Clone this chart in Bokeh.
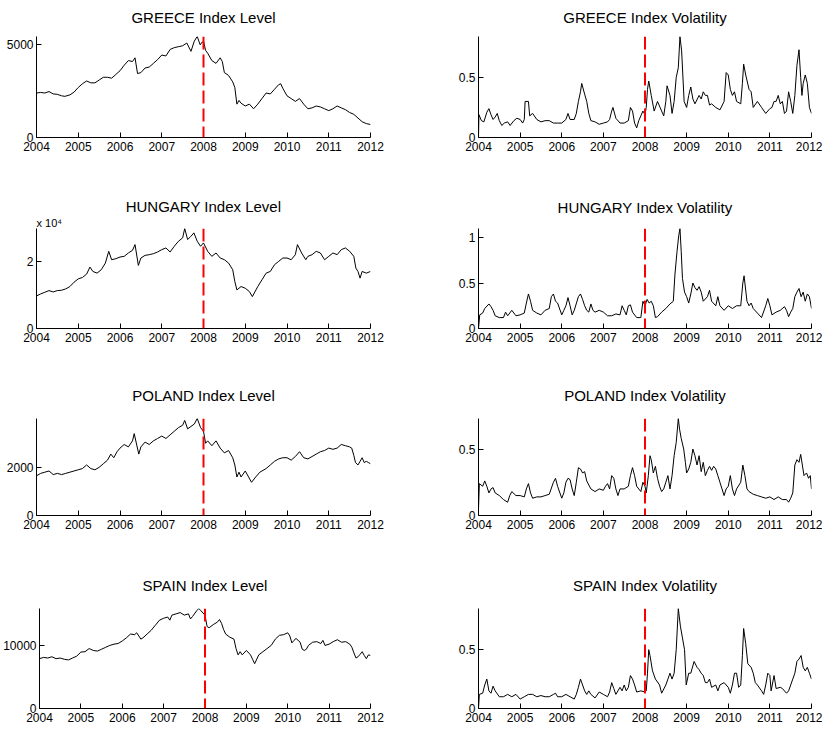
from bokeh.plotting import figure
from bokeh.layouts import column, row
from bokeh.models import FixedTicker, Span, Range1d, Title
from bokeh.embed import file_html
from bokeh.resources import INLINE

FONT = "Liberation Sans"

YEARS = [2004, 2005, 2006, 2007, 2008, 2009, 2010, 2011, 2012]
BREAK_YEAR = 2008

# ---------------- GREECE ----------------
greece_level_t = [
    2004.0, 2004.1, 2004.2, 2004.3, 2004.4, 2004.5, 2004.6, 2004.68, 2004.8, 2004.9,
    2005.0, 2005.1, 2005.2, 2005.3, 2005.4, 2005.5, 2005.6, 2005.7, 2005.8, 2005.9,
    2006.0, 2006.1, 2006.2, 2006.3, 2006.36, 2006.42, 2006.5, 2006.6, 2006.7, 2006.8, 2006.9,
    2007.0, 2007.1, 2007.2, 2007.3, 2007.4, 2007.5, 2007.6, 2007.7, 2007.78, 2007.85, 2007.92, 2007.97,
    2008.0, 2008.05, 2008.1, 2008.2, 2008.3, 2008.4, 2008.45, 2008.5, 2008.6, 2008.7, 2008.75, 2008.8, 2008.85, 2008.9,
    2009.0, 2009.1, 2009.2, 2009.3, 2009.4, 2009.5, 2009.6, 2009.7, 2009.8, 2009.85, 2009.9,
    2010.0, 2010.1, 2010.2, 2010.3, 2010.4, 2010.5, 2010.6, 2010.7, 2010.8, 2010.9,
    2011.0, 2011.1, 2011.2, 2011.3, 2011.4, 2011.5, 2011.6, 2011.7, 2011.8, 2011.9,
    2012.0]
greece_level = [
    2400, 2430, 2400, 2480, 2350, 2330, 2250, 2220, 2300, 2450,
    2700, 2900, 3050, 2950, 2950, 3100, 3250, 3250, 3200, 3400,
    3600, 3900, 4150, 4100, 4300, 3450, 3500, 3750, 3800, 4000, 4200,
    4450, 4400, 4750, 4850, 4900, 4950, 5100, 4650, 5200, 5450, 5000, 5150,
    5200, 4700, 4550, 4150, 4000, 4300, 4100, 3500, 3350, 3000, 2700, 1800, 2000, 1850,
    1700, 1800, 1550, 1800, 2100, 2400, 2350, 2600, 2850, 2900, 2650,
    2250, 2100, 1950, 2100, 1800, 1550, 1600, 1700, 1650, 1550,
    1450, 1550, 1700, 1600, 1500, 1350, 1250, 1050, 850, 750,
    700]

greece_vol_t = [
    2004.0, 2004.01, 2004.07, 2004.13, 2004.2, 2004.25, 2004.3, 2004.35, 2004.4, 2004.45, 2004.5, 2004.56, 2004.62, 2004.7, 2004.76, 2004.85, 2004.92,
    2005.0, 2005.06, 2005.1, 2005.12, 2005.2, 2005.23, 2005.3, 2005.4, 2005.5, 2005.6, 2005.7, 2005.8, 2005.9,
    2006.0, 2006.1, 2006.15, 2006.2, 2006.3, 2006.35, 2006.4, 2006.45, 2006.48, 2006.55, 2006.6, 2006.65, 2006.7, 2006.8, 2006.9,
    2007.0, 2007.1, 2007.15, 2007.2, 2007.23, 2007.3, 2007.4, 2007.5, 2007.6, 2007.65, 2007.7, 2007.75, 2007.8, 2007.85, 2007.9, 2007.95,
    2008.0, 2008.03, 2008.06, 2008.09, 2008.15, 2008.22, 2008.3, 2008.4, 2008.45, 2008.5, 2008.53, 2008.6, 2008.65, 2008.7, 2008.75, 2008.8, 2008.84, 2008.88, 2008.94,
    2009.0, 2009.05, 2009.1, 2009.15, 2009.2, 2009.3, 2009.35, 2009.4, 2009.45, 2009.5, 2009.55, 2009.6, 2009.7, 2009.8, 2009.9, 2009.95,
    2010.0, 2010.05, 2010.1, 2010.15, 2010.2, 2010.3, 2010.34, 2010.37, 2010.42, 2010.5, 2010.55, 2010.6, 2010.7, 2010.8, 2010.9,
    2011.0, 2011.05, 2011.1, 2011.15, 2011.2, 2011.25, 2011.3, 2011.35, 2011.4, 2011.45, 2011.5, 2011.55, 2011.6, 2011.65, 2011.7, 2011.74, 2011.77, 2011.8, 2011.85, 2011.9, 2011.95,
    2012.0]
greece_vol = [
    0.0, 0.19, 0.14, 0.13, 0.21, 0.24, 0.19, 0.15, 0.17, 0.2, 0.14, 0.1, 0.12, 0.13, 0.1, 0.14, 0.16,
    0.15, 0.12, 0.15, 0.3, 0.3, 0.18, 0.2, 0.15, 0.13, 0.14, 0.14, 0.12, 0.12,
    0.12, 0.15, 0.2, 0.15, 0.15, 0.2, 0.3, 0.38, 0.45, 0.36, 0.3, 0.2, 0.14, 0.13, 0.11,
    0.12, 0.13, 0.15, 0.22, 0.25, 0.16, 0.12, 0.12, 0.14, 0.25, 0.22, 0.12, 0.08, 0.14, 0.18, 0.22,
    0.19, 0.25, 0.4, 0.47, 0.35, 0.22, 0.3, 0.22, 0.18, 0.3, 0.43, 0.35, 0.2, 0.3, 0.5, 0.58, 0.84, 0.72, 0.3,
    0.25, 0.35, 0.42, 0.32, 0.28, 0.35, 0.32, 0.38, 0.35, 0.35, 0.27, 0.28, 0.25, 0.23, 0.3, 0.54,
    0.52, 0.4, 0.35, 0.38, 0.3, 0.28, 0.45, 0.61, 0.52, 0.4, 0.38, 0.25, 0.3, 0.25, 0.2,
    0.24, 0.25, 0.3, 0.3, 0.35, 0.28, 0.3, 0.2, 0.22, 0.38, 0.3, 0.2, 0.35, 0.6, 0.73, 0.5, 0.35, 0.45, 0.52, 0.45, 0.25,
    0.2]

# ---------------- HUNGARY ----------------
hungary_level_t = [
    2004.0, 2004.1, 2004.2, 2004.3, 2004.4, 2004.5, 2004.6, 2004.7, 2004.8, 2004.9,
    2005.0, 2005.1, 2005.2, 2005.28, 2005.35, 2005.45, 2005.55, 2005.65, 2005.73, 2005.8, 2005.9,
    2006.0, 2006.1, 2006.2, 2006.3, 2006.36, 2006.44, 2006.5, 2006.6, 2006.7, 2006.8, 2006.9,
    2007.0, 2007.1, 2007.2, 2007.3, 2007.4, 2007.5, 2007.55, 2007.62, 2007.7, 2007.77, 2007.85, 2007.93,
    2008.0, 2008.1, 2008.2, 2008.3, 2008.4, 2008.5, 2008.6, 2008.7, 2008.75, 2008.8, 2008.9,
    2009.0, 2009.1, 2009.17, 2009.3, 2009.4, 2009.5, 2009.6, 2009.7, 2009.8, 2009.9,
    2010.0, 2010.1, 2010.2, 2010.25, 2010.35, 2010.45, 2010.5, 2010.6, 2010.7, 2010.8, 2010.9,
    2011.0, 2011.1, 2011.2, 2011.3, 2011.4, 2011.5, 2011.6, 2011.65, 2011.7, 2011.75, 2011.8, 2011.9,
    2012.0]
hungary_level = [
    9700, 10300, 10800, 11300, 10900, 11300, 11400, 11800, 12500, 13800,
    14800, 15200, 16200, 18300, 17000, 16500, 17500, 19500, 23000, 20500, 20800,
    21300, 21500, 22500, 23300, 25000, 18800, 21000, 21800, 22000, 22300, 22800,
    23500, 24000, 22800, 24500, 26000, 27000, 29800, 26500, 27500, 28500, 26000, 24500,
    25500, 23000, 21500, 22500, 21000, 20500, 19500, 17500, 14000, 11500, 12500,
    12000, 11000, 9500, 12500, 14500, 16500, 17000, 19000, 20000, 21000,
    21000, 20500, 22000, 25000, 22500, 20500, 21500, 22000, 23000, 22500, 20500,
    21500, 22500, 22000, 23500, 24000, 23000, 21500, 18000, 17000, 15000, 17000, 16500,
    17000]

hungary_vol_t = [
    2004.0, 2004.03, 2004.1, 2004.15, 2004.25, 2004.3, 2004.35, 2004.4, 2004.5, 2004.6, 2004.65, 2004.7, 2004.8, 2004.9,
    2005.0, 2005.1, 2005.15, 2005.2, 2005.25, 2005.3, 2005.4, 2005.5, 2005.6, 2005.7, 2005.75, 2005.8, 2005.85, 2005.9,
    2006.0, 2006.05, 2006.1, 2006.15, 2006.2, 2006.25, 2006.3, 2006.4, 2006.45, 2006.5, 2006.55, 2006.6, 2006.65, 2006.7, 2006.75, 2006.8, 2006.9,
    2007.0, 2007.1, 2007.2, 2007.3, 2007.4, 2007.45, 2007.5, 2007.55, 2007.6, 2007.65, 2007.7, 2007.8, 2007.9, 2007.95,
    2008.0, 2008.05, 2008.1, 2008.15, 2008.2, 2008.25, 2008.3, 2008.4, 2008.5, 2008.6, 2008.68, 2008.72, 2008.77, 2008.81, 2008.84, 2008.87, 2008.9, 2008.95,
    2009.0, 2009.05, 2009.1, 2009.15, 2009.2, 2009.25, 2009.3, 2009.35, 2009.4, 2009.5, 2009.55, 2009.6, 2009.7, 2009.75, 2009.8, 2009.9,
    2010.0, 2010.1, 2010.2, 2010.3, 2010.35, 2010.38, 2010.45, 2010.5, 2010.55, 2010.6, 2010.7, 2010.8, 2010.9, 2010.95,
    2011.0, 2011.05, 2011.15, 2011.25, 2011.35, 2011.4, 2011.45, 2011.5, 2011.55, 2011.6, 2011.65, 2011.7, 2011.75, 2011.8, 2011.85, 2011.9, 2011.95,
    2012.0]
hungary_vol = [
    0.0, 0.15, 0.17, 0.22, 0.27, 0.24, 0.2, 0.14, 0.12, 0.12, 0.18, 0.14, 0.2, 0.14,
    0.15, 0.17, 0.28, 0.38, 0.3, 0.2, 0.17, 0.15, 0.2, 0.22, 0.35, 0.38, 0.3, 0.28,
    0.15, 0.2, 0.25, 0.34, 0.25, 0.15, 0.2, 0.35, 0.38, 0.32, 0.25, 0.2, 0.18, 0.27, 0.2, 0.18, 0.2,
    0.18, 0.14, 0.14, 0.16, 0.15, 0.25, 0.2, 0.15, 0.25, 0.26, 0.18, 0.12, 0.12, 0.3,
    0.25, 0.32, 0.28, 0.3, 0.25, 0.12, 0.13, 0.18, 0.22, 0.27, 0.3, 0.6, 0.85, 1.02, 1.1, 0.85, 0.55, 0.4,
    0.35, 0.28, 0.38, 0.5, 0.45, 0.42, 0.46, 0.4, 0.3, 0.35, 0.42, 0.3, 0.25, 0.35, 0.25, 0.2,
    0.25, 0.22, 0.25, 0.25, 0.5, 0.58, 0.3, 0.25, 0.28, 0.22, 0.17, 0.12, 0.25, 0.33,
    0.25, 0.15, 0.18, 0.2, 0.24, 0.2, 0.13, 0.18, 0.22, 0.35, 0.4, 0.44, 0.35, 0.4, 0.3, 0.38, 0.35,
    0.22]

# ---------------- POLAND ----------------
poland_level_t = [
    2004.0, 2004.1, 2004.2, 2004.3, 2004.4, 2004.5, 2004.6, 2004.7, 2004.8, 2004.9,
    2005.0, 2005.1, 2005.2, 2005.3, 2005.4, 2005.5, 2005.6, 2005.7, 2005.78, 2005.85, 2005.93,
    2006.0, 2006.1, 2006.2, 2006.3, 2006.34, 2006.45, 2006.5, 2006.6, 2006.7, 2006.8, 2006.9,
    2007.0, 2007.1, 2007.2, 2007.3, 2007.4, 2007.5, 2007.55, 2007.62, 2007.7, 2007.78, 2007.85, 2007.93,
    2008.0, 2008.05, 2008.1, 2008.2, 2008.3, 2008.4, 2008.5, 2008.6, 2008.7, 2008.75, 2008.8, 2008.85, 2008.9,
    2009.0, 2009.08, 2009.15, 2009.25, 2009.35, 2009.5, 2009.6, 2009.7, 2009.8, 2009.9,
    2010.0, 2010.1, 2010.2, 2010.3, 2010.4, 2010.5, 2010.6, 2010.7, 2010.8, 2010.9,
    2011.0, 2011.1, 2011.2, 2011.3, 2011.4, 2011.5, 2011.55, 2011.6, 2011.64, 2011.7, 2011.75, 2011.8, 2011.85, 2011.9, 2011.95,
    2012.0]
poland_level = [
    1650, 1750, 1800, 1850, 1700, 1750, 1700, 1750, 1800, 1850,
    1900, 1950, 2100, 1950, 1900, 2000, 2150, 2300, 2550, 2400, 2650,
    2800, 2950, 2850, 3100, 3400, 2550, 2850, 3050, 2950, 3100, 3200,
    3300, 3200, 3350, 3500, 3650, 3750, 3950, 3600, 3700, 3800, 4030, 3650,
    3500, 3000, 3100, 2900, 3100, 2800, 2600, 2700, 2400, 2100, 1600, 1800, 1600,
    1850, 1600, 1380, 1600, 1800, 1950, 2100, 2250, 2350, 2400,
    2400, 2300, 2450, 2650, 2400, 2350, 2450, 2550, 2650, 2700,
    2800, 2750, 2800, 2950, 2900, 2850, 2800, 2500, 2200, 2100, 2250, 2400, 2200, 2250, 2200,
    2150]

poland_vol_t = [
    2004.0, 2004.02, 2004.1, 2004.15, 2004.2, 2004.25, 2004.3, 2004.35, 2004.4, 2004.5, 2004.6, 2004.7, 2004.75, 2004.8, 2004.9,
    2005.0, 2005.1, 2005.15, 2005.2, 2005.25, 2005.3, 2005.4, 2005.5, 2005.6, 2005.7, 2005.8, 2005.85, 2005.9,
    2006.0, 2006.05, 2006.1, 2006.15, 2006.2, 2006.25, 2006.3, 2006.35, 2006.4, 2006.45, 2006.5, 2006.55, 2006.6, 2006.7, 2006.8, 2006.9,
    2007.0, 2007.05, 2007.1, 2007.15, 2007.2, 2007.25, 2007.3, 2007.35, 2007.4, 2007.5, 2007.6, 2007.65, 2007.7, 2007.75, 2007.8, 2007.9, 2007.95,
    2008.0, 2008.03, 2008.08, 2008.12, 2008.15, 2008.2, 2008.25, 2008.3, 2008.35, 2008.4, 2008.45, 2008.5, 2008.55, 2008.6, 2008.65, 2008.7, 2008.75, 2008.8, 2008.83, 2008.87, 2008.93, 2008.97,
    2009.0, 2009.05, 2009.1, 2009.15, 2009.2, 2009.25, 2009.3, 2009.35, 2009.4, 2009.45, 2009.5, 2009.55, 2009.6, 2009.65, 2009.7, 2009.75, 2009.8, 2009.85, 2009.9, 2009.95,
    2010.0, 2010.05, 2010.1, 2010.15, 2010.2, 2010.3, 2010.35, 2010.4, 2010.45, 2010.5, 2010.6, 2010.7, 2010.8, 2010.9,
    2011.0, 2011.1, 2011.2, 2011.3, 2011.4, 2011.45, 2011.5, 2011.55, 2011.6, 2011.65, 2011.7, 2011.74, 2011.78, 2011.82, 2011.88, 2011.93, 2011.97,
    2012.0]
poland_vol = [
    0.05, 0.24, 0.22, 0.26, 0.22, 0.17, 0.2, 0.21, 0.17, 0.15, 0.12, 0.1, 0.15, 0.18, 0.15,
    0.15, 0.14, 0.2, 0.24, 0.17, 0.13, 0.14, 0.14, 0.15, 0.16, 0.25, 0.28, 0.22,
    0.13, 0.17, 0.25, 0.28, 0.27, 0.2, 0.15, 0.25, 0.36, 0.35, 0.32, 0.33, 0.26, 0.2, 0.18, 0.2,
    0.19, 0.22, 0.24, 0.2, 0.3, 0.28, 0.2, 0.15, 0.2, 0.2, 0.22, 0.3, 0.36, 0.3, 0.22, 0.18, 0.25,
    0.22, 0.17, 0.3, 0.45, 0.42, 0.32, 0.37, 0.28, 0.22, 0.18, 0.2, 0.25, 0.3, 0.2, 0.3, 0.45, 0.55, 0.73, 0.65, 0.58, 0.5, 0.4,
    0.32, 0.35, 0.4, 0.5, 0.45, 0.38, 0.45, 0.33, 0.4, 0.3, 0.34, 0.37, 0.34, 0.37, 0.35, 0.3, 0.25, 0.2, 0.15, 0.2,
    0.22, 0.3, 0.2, 0.15, 0.2, 0.25, 0.38, 0.3, 0.2, 0.18, 0.16, 0.15, 0.14, 0.13,
    0.14, 0.12, 0.14, 0.12, 0.12, 0.1, 0.13, 0.17, 0.38, 0.42, 0.4, 0.46, 0.38, 0.3, 0.32, 0.28, 0.3,
    0.2]

# ---------------- SPAIN ----------------
spain_level_t = [
    2004.0, 2004.1, 2004.2, 2004.3, 2004.4, 2004.5, 2004.6, 2004.7, 2004.8, 2004.9,
    2005.0, 2005.1, 2005.2, 2005.3, 2005.4, 2005.5, 2005.6, 2005.7, 2005.8, 2005.9,
    2006.0, 2006.1, 2006.2, 2006.3, 2006.35, 2006.45, 2006.5, 2006.6, 2006.7, 2006.8, 2006.9,
    2007.0, 2007.1, 2007.15, 2007.2, 2007.3, 2007.4, 2007.5, 2007.6, 2007.65, 2007.7, 2007.8, 2007.85, 2007.9,
    2008.0, 2008.05, 2008.1, 2008.2, 2008.3, 2008.35, 2008.4, 2008.45, 2008.5, 2008.6, 2008.7, 2008.75, 2008.8, 2008.85, 2008.9,
    2009.0, 2009.1, 2009.15, 2009.2, 2009.3, 2009.4, 2009.5, 2009.6, 2009.7, 2009.8, 2009.9,
    2010.0, 2010.05, 2010.1, 2010.15, 2010.2, 2010.3, 2010.35, 2010.4, 2010.45, 2010.5, 2010.6, 2010.7, 2010.8, 2010.85, 2010.9,
    2011.0, 2011.1, 2011.2, 2011.3, 2011.4, 2011.5, 2011.55, 2011.6, 2011.65, 2011.7, 2011.75, 2011.8, 2011.85, 2011.9, 2011.95,
    2012.0]
spain_level = [
    7900, 8100, 8000, 8200, 7900, 8000, 7800, 7700, 8000, 8300,
    8950, 9000, 9500, 9200, 9100, 9400, 9700, 10000, 10200, 10300,
    10700, 11200, 11800, 11700, 12000, 11000, 11200, 11800, 12400, 13200, 14000,
    14300, 14500, 14000, 14800, 15000, 15200, 14800, 15000, 14200, 14600, 15500, 15850, 15500,
    14800, 13000, 12800, 13300, 13700, 14100, 13500, 12500, 11800, 11300, 11000, 9500, 8500, 9000, 8500,
    9200, 8500, 7800, 7100, 8500, 9000, 9500, 10000, 11000, 11600, 11700,
    12000, 11500, 10400, 10800, 11100, 10500, 9400, 9200, 9400, 10000, 10500, 10600, 10300, 10800, 10000,
    10200, 10600, 10900, 10500, 10600, 10200, 9700, 8800, 8000, 8200, 8600, 9000, 8400, 7900, 8500,
    8400]

spain_vol_t = [
    2004.0, 2004.02, 2004.1, 2004.15, 2004.2, 2004.25, 2004.3, 2004.35, 2004.4, 2004.5, 2004.6, 2004.7, 2004.8, 2004.9,
    2005.0, 2005.1, 2005.2, 2005.3, 2005.4, 2005.5, 2005.6, 2005.7, 2005.8, 2005.85, 2005.9,
    2006.0, 2006.1, 2006.2, 2006.3, 2006.35, 2006.4, 2006.45, 2006.5, 2006.55, 2006.6, 2006.65, 2006.7, 2006.8, 2006.9,
    2007.0, 2007.1, 2007.15, 2007.2, 2007.25, 2007.3, 2007.4, 2007.45, 2007.5, 2007.55, 2007.6, 2007.65, 2007.7, 2007.75, 2007.8, 2007.9,
    2008.0, 2008.03, 2008.06, 2008.09, 2008.12, 2008.18, 2008.25, 2008.35, 2008.4, 2008.5, 2008.55, 2008.6, 2008.65, 2008.7, 2008.75, 2008.8, 2008.85, 2008.9, 2008.95, 2008.99,
    2009.05, 2009.1, 2009.18, 2009.25, 2009.3, 2009.35, 2009.4, 2009.45, 2009.5, 2009.55, 2009.6, 2009.7, 2009.75, 2009.8, 2009.9,
    2010.0, 2010.05, 2010.1, 2010.15, 2010.2, 2010.25, 2010.3, 2010.34, 2010.37, 2010.42, 2010.47, 2010.55, 2010.6, 2010.65, 2010.7, 2010.8, 2010.85, 2010.9, 2010.95,
    2011.0, 2011.03, 2011.1, 2011.15, 2011.25, 2011.3, 2011.4, 2011.45, 2011.5, 2011.55, 2011.6, 2011.65, 2011.7, 2011.75, 2011.8, 2011.85, 2011.9, 2011.95,
    2012.0]
spain_vol = [
    0.0, 0.12, 0.13, 0.2, 0.25, 0.15, 0.13, 0.19, 0.15, 0.1, 0.1, 0.12, 0.1, 0.12,
    0.08, 0.1, 0.12, 0.12, 0.1, 0.11, 0.1, 0.1, 0.12, 0.13, 0.1,
    0.1, 0.12, 0.1, 0.08, 0.12, 0.18, 0.25, 0.2, 0.15, 0.12, 0.15, 0.12, 0.09, 0.14,
    0.12, 0.1, 0.14, 0.22, 0.17, 0.12, 0.18, 0.15, 0.2, 0.15, 0.18, 0.28, 0.25, 0.2, 0.14, 0.15,
    0.14, 0.15, 0.3, 0.5, 0.45, 0.32, 0.25, 0.2, 0.13, 0.2, 0.25, 0.3, 0.25, 0.3, 0.5, 0.85, 0.7, 0.6, 0.5, 0.2,
    0.3, 0.3, 0.4, 0.35, 0.33, 0.3, 0.28, 0.22, 0.22, 0.25, 0.18, 0.2, 0.15, 0.2, 0.22,
    0.18, 0.13, 0.2, 0.3, 0.3, 0.18, 0.2, 0.45, 0.68, 0.55, 0.38, 0.35, 0.3, 0.22, 0.2, 0.15, 0.12, 0.2, 0.3,
    0.28, 0.15, 0.28, 0.17, 0.18, 0.17, 0.13, 0.15, 0.2, 0.25, 0.3, 0.4, 0.42, 0.45, 0.35, 0.32, 0.35, 0.3,
    0.25]

# tick definitions for each panel
level_ticks = {
    "GREECE": ([0, 5000], ["0", "5000"]),
    "HUNGARY": ([0, 20000], ["0", "2"]),
    "POLAND": ([0, 2000], ["0", "2000"]),
    "SPAIN": ([0, 10000], ["0", "10000"]),
}
vol_ticks = {
    "GREECE": ([0, 0.5], ["0", "0.5"]),
    "HUNGARY": ([0, 0.5, 1], ["0", "0.5", "1"]),
    "POLAND": ([0, 0.5], ["0", "0.5"]),
    "SPAIN": ([0, 0.5], ["0", "0.5"]),
}
level_exponent = {"HUNGARY": "x 10\u2074"}

series = [
    ("GREECE", greece_level_t, greece_level, greece_vol_t, greece_vol),
    ("HUNGARY", hungary_level_t, hungary_level, hungary_vol_t, hungary_vol),
    ("POLAND", poland_level_t, poland_level, poland_vol_t, poland_vol),
    ("SPAIN", spain_level_t, spain_level, spain_vol_t, spain_vol),
]

# layout geometry (pixels)
ROW_FIG_H = [190, 190, 190, 162]
ROW_TOP = [36, 38, 38, 38]
ROW_FRAME_H = [101, 100, 97, 100]
ROW_TITLE_GAP = [8, 10, 12, 12]   # extra gap between frame top and title text
COL_W = 411
COL_LEFT = [36, 67]
COL_FRAME_W = [334, 333]


def style_axis(ax):
    ax.axis_line_color = "black"
    ax.axis_line_width = 1
    ax.major_tick_line_color = "black"
    ax.major_tick_in = 5
    ax.major_tick_out = 0
    ax.minor_tick_line_color = None
    ax.major_label_text_font = FONT
    ax.major_label_text_font_size = "12px"
    ax.major_label_text_color = "black"


def make_panel(title, t, v, ticks, labels, r, c, exponent=None):
    fig_h = ROW_FIG_H[r]
    top = ROW_TOP[r]
    fh = ROW_FRAME_H[r]
    left = COL_LEFT[c]
    fw = COL_FRAME_W[c]
    p = figure(width=COL_W, height=fig_h,
               x_range=Range1d(YEARS[0], YEARS[-1]),
               y_range=Range1d(0, max(v)),
               output_backend="svg", toolbar_location=None,
               min_border_left=left, min_border_right=COL_W - left - fw,
               min_border_top=top, min_border_bottom=fig_h - top - fh)
    xaxis = p.below[0]
    yaxis = p.left[0]
    if exponent is not None:
        p.add_layout(Title(text=exponent, align="left", text_font=FONT, text_font_size="11px",
                           text_font_style="normal", text_color="black", standoff=0), "above")
    else:
        # blank spacer between the frame and the title
        p.add_layout(Title(text=" ", align="left", text_font=FONT, text_font_size="1px",
                           standoff=ROW_TITLE_GAP[r]), "above")
    p.add_layout(Title(text=title, align="center", text_font=FONT, text_font_size="15px",
                       text_font_style="normal", text_color="black", standoff=0), "above")
    p.outline_line_color = None
    p.background_fill_color = "white"
    p.border_fill_color = "white"
    p.xgrid.visible = False
    p.ygrid.visible = False

    xaxis.ticker = FixedTicker(ticks=YEARS)
    xaxis.major_label_overrides = {y: str(y) for y in YEARS}
    yaxis.ticker = FixedTicker(ticks=ticks)
    yaxis.major_label_overrides = dict(zip(ticks, labels))
    style_axis(xaxis)
    style_axis(yaxis)
    xaxis.major_label_standoff = 4
    yaxis.major_label_standoff = 3

    p.line(t, v, line_color="black", line_width=1)
    p.add_layout(Span(location=BREAK_YEAR, dimension="height", line_color="#ff0000",
                      line_width=2, line_dash="13 5"))
    return p


rows = []
for r, (name, lt, lv, vt, vv) in enumerate(series):
    lticks, llabels = level_ticks[name]
    vticks, vlabels = vol_ticks[name]
    p1 = make_panel(f"{name} Index Level", lt, lv, lticks, llabels, r, 0,
                    exponent=level_exponent.get(name))
    p2 = make_panel(f"{name} Index Volatility", vt, vv, vticks, vlabels, r, 1)
    rows.append(row(p1, p2))

layout = column(*rows)
open("out.html", "w").write(file_html(layout, INLINE))
